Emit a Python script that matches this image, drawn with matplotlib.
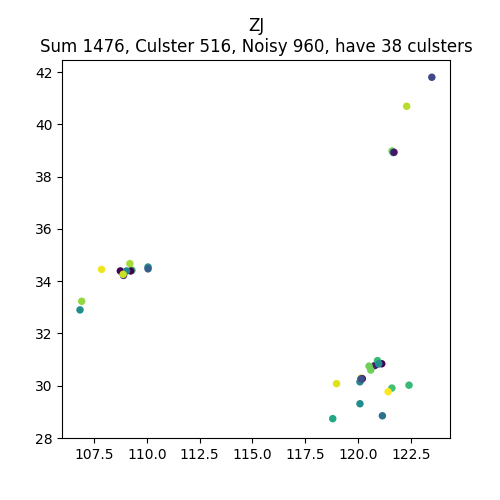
import numpy as np
import matplotlib
matplotlib.use('Agg')
import matplotlib.pyplot as plt

# lon, lat and cluster label of each visible blob
lon = [109.30, 108.75, 109.24, 108.90, 123.49, 121.15, 120.98, 120.14, 120.79, 121.12,
       110.06, 110.06, 106.84, 120.09, 120.09, 109.04, 118.80, 121.60, 122.41, 120.92,
       120.98, 120.52, 120.60, 121.61, 121.66, 121.70, 106.92, 109.20, 122.30, 108.88,
       120.14, 118.98, 107.86, 121.42, 120.20, 120.14]
lat = [34.42, 34.39, 34.39, 34.22, 41.80, 28.85, 30.84, 30.26, 30.77, 30.84,
       34.54, 34.47, 32.90, 29.31, 30.15, 34.39, 28.74, 29.91, 30.02, 30.96,
       30.84, 30.75, 30.60, 38.98, 38.92, 38.93, 33.23, 34.67, 40.69, 34.26,
       30.29, 30.08, 34.45, 29.77, 30.27, 30.26]
label = [26, 0, 0, 5, 8, 14, 13, 17, 3, 0,
         18, 11, 18, 18, 17, 17, 22, 26, 25, 25,
         18, 29, 29, 29, 23, 2, 31, 32, 33, 34,
         35, 35, 36, 37, 2, 9]

title = 'ZJ\nSum 1476, Culster 516, Noisy 960, have 38 culsters'

fig = plt.figure(figsize=(5, 5), dpi=100)
ax = fig.add_axes([0.1245, 0.124, 0.7755, 0.756])
ax.scatter(lon, lat, c=np.array(label), s=29, cmap='viridis', vmin=0, vmax=37, linewidths=0)
ax.set_xlim(106.0, 124.35)
ax.set_ylim(28.0, 42.46)
ax.set_title(title)
fig.savefig('out.png', dpi=100)
